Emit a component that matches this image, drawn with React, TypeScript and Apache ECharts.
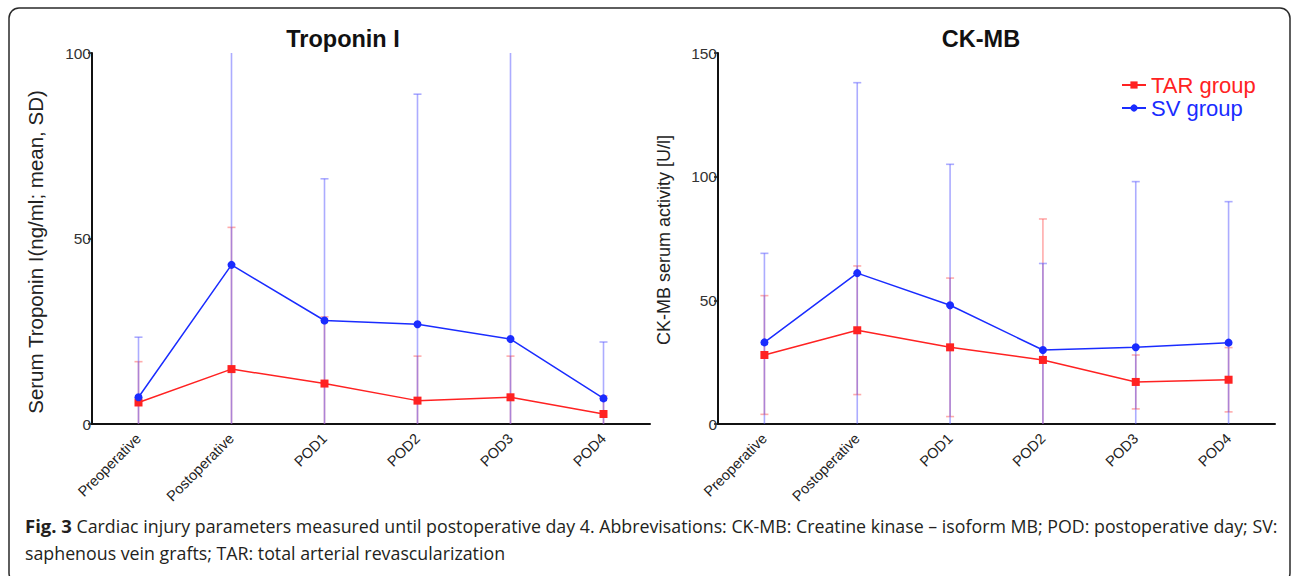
import React, { useEffect, useRef } from "react";
import * as echarts from "echarts";

const categories = ["Preoperative", "Postoperative", "POD1", "POD2", "POD3", "POD4"];

// Troponin I (ng/ml): mean and SD
const tropTarMean = [5.8, 14.8, 10.9, 6.3, 7.2, 2.7];
const tropTarSd = [11.0, 38.2, 18.0, 12.0, 11.1, 4.9];
const tropSvMean = [7.2, 42.9, 27.9, 26.9, 22.9, 6.9];
const tropSvSd = [16.2, 62.0, 38.2, 62.0, 80.0, 15.2];

// CK-MB (U/l): mean and SD
const ckTarMean = [27.9, 37.9, 31.0, 25.9, 17.0, 17.9];
const ckTarSd = [24.0, 26.0, 28.0, 57.0, 10.9, 13.0];
const ckSvMean = [33.0, 61.0, 48.0, 29.9, 31.0, 32.9];
const ckSvSd = [36.0, 77.0, 57.0, 35.0, 67.0, 57.0];

const tropTicks = { min: 0, max: 100, interval: 50 };
const ckTicks = { min: 0, max: 150, interval: 50 };

const RED = "#ff2222";
const BLUE = "#1a2cff";
const RED_ERR = "rgba(255,90,90,0.5)";
const BLUE_ERR = "rgba(90,90,255,0.5)";

const FONT = "'Liberation Sans', Arial, sans-serif";
const CAP_FONT = "'Open Sans', sans-serif";

function errData(mean: number[], sd: number[]) {
  return mean.map((m, i) => [i, m, sd[i]]);
}

function errSeries(name: string, idx: number, mean: number[], sd: number[], color: string, max: number) {
  return {
    type: "custom",
    name: name + " SD",
    xAxisIndex: idx,
    yAxisIndex: idx,
    z: 1,
    silent: true,
    encode: { x: 0, y: 1 },
    data: errData(mean, sd),
    renderItem: (params: any, api: any) => {
      const i = api.value(0);
      const m = api.value(1);
      const s = api.value(2);
      const hiV = m + s;
      const loV = m - s;
      const hi = Math.min(hiV, max);
      const lo = Math.max(loV, 0);
      const pHi = api.coord([i, hi]);
      const pLo = api.coord([i, lo]);
      const style = { stroke: color, lineWidth: 1.6, fill: "none" };
      const children: any[] = [
        { type: "line", shape: { x1: pHi[0], y1: pHi[1], x2: pLo[0], y2: pLo[1] }, style },
      ];
      const cw = 4;
      if (hiV <= max) {
        children.push({ type: "line", shape: { x1: pHi[0] - cw, y1: pHi[1], x2: pHi[0] + cw, y2: pHi[1] }, style });
      }
      if (loV >= 0) {
        children.push({ type: "line", shape: { x1: pLo[0] - cw, y1: pLo[1], x2: pLo[0] + cw, y2: pLo[1] }, style });
      }
      return { type: "group", children };
    },
  };
}

function lineSeries(name: string, idx: number, data: number[], color: string, symbol: string) {
  return {
    type: "line",
    name,
    xAxisIndex: idx,
    yAxisIndex: idx,
    z: 3,
    data,
    symbol,
    symbolSize: 8,
    lineStyle: { color, width: 1.5 },
    itemStyle: { color },
  };
}

function xAxis(idx: number) {
  return {
    type: "category",
    gridIndex: idx,
    data: categories,
    boundaryGap: true,
    axisLine: { lineStyle: { color: "#111", width: 2 } },
    axisTick: { alignWithLabel: true, length: 5, lineStyle: { color: "#111", width: 1.5 } },
    axisLabel: { rotate: 45, fontSize: 14.5, color: "#222", fontFamily: FONT, margin: 12 },
    splitLine: { show: false },
  };
}

function yAxis(idx: number, t: { min: number; max: number; interval: number }) {
  return {
    type: "value",
    gridIndex: idx,
    min: t.min,
    max: t.max,
    interval: t.interval,
    axisLine: { show: true, lineStyle: { color: "#111", width: 2 } },
    axisTick: { show: true, length: 4, lineStyle: { color: "#111", width: 1.5 } },
    axisLabel: { fontSize: 15.5, color: "#333", fontFamily: FONT, margin: 1 },
    splitLine: { show: false },
  };
}

export default function App() {
  const ref = useRef<HTMLDivElement>(null);
  useEffect(() => {
    if (!ref.current) return;
    const chart = echarts.init(ref.current, null, { renderer: "svg" });
    chart.setOption({
      animation: false,
      backgroundColor: "#ffffff",
      textStyle: { fontFamily: FONT },
      title: [
        { text: "Troponin I", left: 338, top: 22, textAlign: "center", textStyle: { fontSize: 23.5, fontWeight: "bold", color: "#111", fontFamily: FONT } },
        { text: "CK-MB", left: 976, top: 22, textAlign: "center", textStyle: { fontSize: 23.5, fontWeight: "bold", color: "#111", fontFamily: FONT } },
      ],
      legend: {
        orient: "vertical",
        left: 1116,
        top: 69,
        itemWidth: 24,
        itemHeight: 9,
        itemGap: 1,
        textStyle: { fontSize: 22, fontFamily: FONT },
        data: [
          { name: "TAR group", textStyle: { color: RED } },
          { name: "SV group", textStyle: { color: BLUE } },
        ],
      },
      grid: [
        { left: 92, top: 53, width: 558, height: 371 },
        { left: 718, top: 53, width: 557, height: 371 },
      ],
      xAxis: [xAxis(0), xAxis(1)],
      yAxis: [yAxis(0, tropTicks), yAxis(1, ckTicks)],
      series: [
        errSeries("TAR group", 0, tropTarMean, tropTarSd, RED_ERR, tropTicks.max),
        errSeries("SV group", 0, tropSvMean, tropSvSd, BLUE_ERR, tropTicks.max),
        errSeries("TAR group", 1, ckTarMean, ckTarSd, RED_ERR, ckTicks.max),
        errSeries("SV group", 1, ckSvMean, ckSvSd, BLUE_ERR, ckTicks.max),
        lineSeries("TAR group", 0, tropTarMean, RED, "rect"),
        lineSeries("SV group", 0, tropSvMean, BLUE, "circle"),
        lineSeries("TAR group", 1, ckTarMean, RED, "rect"),
        lineSeries("SV group", 1, ckSvMean, BLUE, "circle"),
      ],
      graphic: [
        {
          type: "rect",
          shape: { x: 9, y: 8, width: 1281, height: 575, r: 10 },
          style: { fill: "none", stroke: "#2a2a2a", lineWidth: 1.5 },
          silent: true,
        },
        {
          type: "text",
          x: 35,
          y: 252,
          rotation: Math.PI / 2,
          style: {
            text: "Serum Troponin I(ng/ml; mean, SD)",
            fontSize: 20.5,
            fill: "#222",
            fontFamily: FONT,
            align: "center",
            verticalAlign: "middle",
          },
        },
        {
          type: "text",
          x: 664,
          y: 240,
          rotation: Math.PI / 2,
          style: {
            text: "CK-MB serum activity [U/l]",
            fontSize: 18,
            fill: "#222",
            fontFamily: FONT,
            align: "center",
            verticalAlign: "middle",
          },
        },
        {
          type: "text",
          left: 25,
          top: 516,
          style: {
            text: "{b|Fig. 3} Cardiac injury parameters measured until postoperative day 4. Abbrevisations: CK-MB: Creatine kinase – isoform MB; POD: postoperative day; SV:",
            rich: {
              b: { fontWeight: "bold", fontSize: 18.5, fill: "#231f20", fontFamily: CAP_FONT },
            },
            fontSize: 17.8,
            fill: "#231f20",
            fontFamily: CAP_FONT,
          },
        },
        {
          type: "text",
          left: 25,
          top: 544,
          style: {
            text: "saphenous vein grafts; TAR: total arterial revascularization",
            fontSize: 17.8,
            fill: "#231f20",
            fontFamily: CAP_FONT,
          },
        },
      ],
    });
    return () => chart.dispose();
  }, []);
  return (
    <div
      ref={ref}
      style={{ position: "fixed", left: 0, top: 0, width: 1292, height: 576 }}
    />
  );
}
